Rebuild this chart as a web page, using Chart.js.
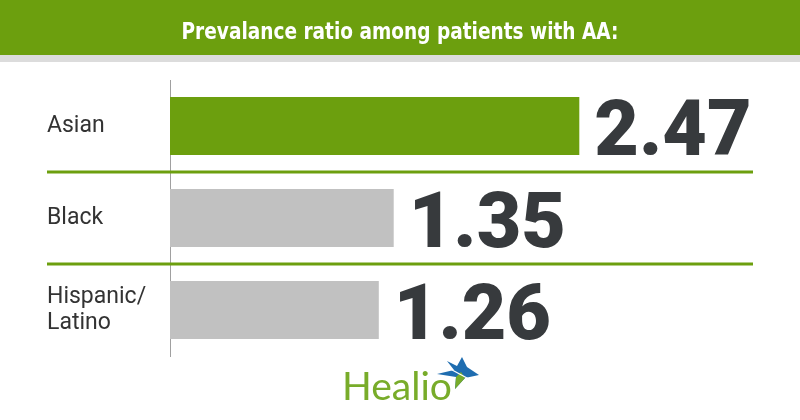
<!DOCTYPE html>
<html><head><meta charset="utf-8">
<script src="https://cdn.jsdelivr.net/npm/chart.js@4"></script>
<style>
html,body{margin:0;padding:0;background:#fff;}
#wrap{position:relative;width:800px;height:420px;overflow:hidden;background:#fff;}
#c{position:absolute;left:0;top:0;}
#ov{position:absolute;left:0;top:0;pointer-events:none;}
</style></head>
<body>
<div id="wrap">
<canvas id="c" width="800" height="420"></canvas>
<svg id="ov" width="800" height="420" xmlns="http://www.w3.org/2000/svg">
  <rect x="0" y="0" width="800" height="55" fill="#6c9f0e"/>
  <rect x="0" y="55" width="800" height="7" fill="#dcdcdc"/>
  <text x="400" y="38.5" text-anchor="middle" font-family="Liberation Sans Narrow, DejaVu Sans Condensed, sans-serif" font-weight="700" font-size="23" fill="#ffffff" textLength="437" lengthAdjust="spacingAndGlyphs">Prevalance ratio among patients with AA:</text>
  <text x="342" y="400" font-family="Lato, Open Sans, sans-serif" font-weight="400" font-size="39" fill="#78ac2a" textLength="110" lengthAdjust="spacingAndGlyphs">Healio</text>
  <polygon points="447,361 457,366 462,357 467,367 479,375 465,378 455,389 456,377 437,374 454,370" fill="#1f6db0"/>
  <polygon points="461,372 465,378 455,389 456,377" fill="#78ac2a"/>
  <line x1="441" y1="364" x2="480" y2="385" stroke="#ffffff" stroke-width="1.3"/>
</svg>
</div>
<script>
const categories = ['Asian', 'Black', ['Hispanic/', 'Latino']];
const ratios = [2.47, 1.35, 1.26];
const axisMin = 0;
const axisMax = 3.5;

const separatorPlugin = {
  id: 'separators',
  beforeDatasetsDraw(chart) {
    const y = chart.scales.y;
    const ctx = chart.ctx;
    ctx.save();
    ctx.strokeStyle = '#6c9f0e';
    ctx.lineWidth = 3;
    for (let i = 0; i < categories.length - 1; i++) {
      const py = (y.getPixelForValue(i) + y.getPixelForValue(i + 1)) / 2;
      ctx.beginPath();
      ctx.moveTo(y.left, py);
      ctx.lineTo(chart.chartArea.right + 3, py);
      ctx.stroke();
    }
    ctx.restore();
  }
};

const valuePlugin = {
  id: 'values',
  afterDatasetsDraw(chart) {
    const ctx = chart.ctx;
    const meta = chart.getDatasetMeta(0);
    ctx.save();
    ctx.font = '900 77px Roboto, "Liberation Sans", sans-serif';
    ctx.fillStyle = '#373a3d';
    ctx.textAlign = 'left';
    ctx.textBaseline = 'alphabetic';
    meta.data.forEach((bar, i) => {
      const p = bar.getProps(['x', 'y', 'height'], true);
      ctx.fillText(ratios[i].toFixed(2), p.x + 15, p.y + p.height / 2);
    });
    ctx.restore();
  }
};

new Chart(document.getElementById('c'), {
  type: 'bar',
  data: {
    labels: categories,
    datasets: [{
      data: ratios,
      backgroundColor: ['#6c9f0e', '#c1c1c1', '#c1c1c1'],
      borderWidth: 0,
      barPercentage: 0.63,
      categoryPercentage: 1.0
    }]
  },
  options: {
    indexAxis: 'y',
    responsive: false,
    animation: false,
    devicePixelRatio: 1,
    layout: { padding: { left: 47, right: 50, top: 80, bottom: 64 } },
    plugins: { legend: { display: false }, tooltip: { enabled: false }, title: { display: false } },
    scales: {
      x: { display: false, min: axisMin, max: axisMax },
      y: {
        grid: { display: false, drawTicks: false },
        border: { display: true, color: '#a0a0a0', width: 1 },
        ticks: {
          crossAlign: 'far',
          color: '#333333',
          padding: 0,
          font: { family: 'Roboto, "Liberation Sans", sans-serif', size: 23, lineHeight: 1.13 }
        },
        afterFit(scale) { scale.width = 123; }
      }
    }
  },
  plugins: [separatorPlugin, valuePlugin]
});
</script>
</body></html>
